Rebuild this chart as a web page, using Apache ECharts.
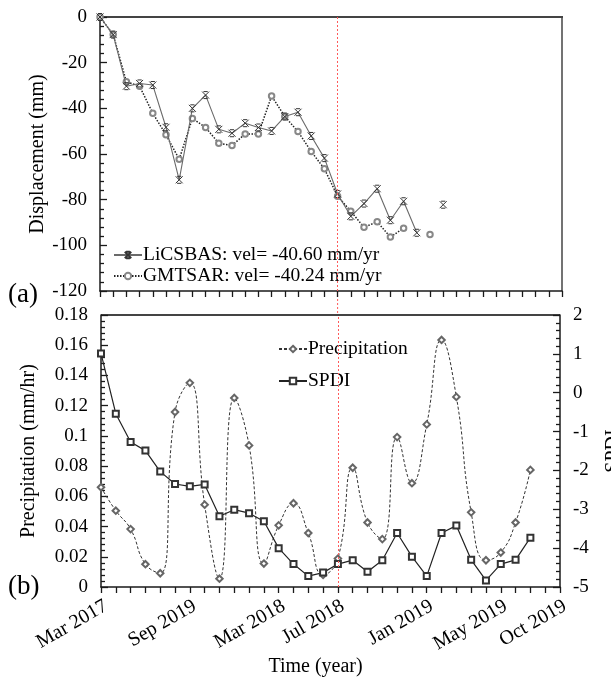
<!DOCTYPE html>
<html>
<head>
<meta charset="utf-8">
<script src="https://cdn.jsdelivr.net/npm/echarts@6/dist/echarts.min.js"></script>
<style>
  html, body { margin: 0; padding: 0; background: #fff; }
  #chart { width: 611px; height: 684px; }
</style>
</head>
<body>
<div id="chart"></div>
<script>
// (a) cumulative displacement (mm) per acquisition slot
const licsbasVel = '-40.60';
const gmtsarVel = '-40.24';
const licsbasDisp = [0, -7.7, -30.3, -29.1, -29.8, -48.3, -71.3, -40.0, -34.2, -49.2, -50.9, -46.5,
  -48.4, -49.9, -43.6, -41.7, -52.1, -61.8, -77.5, -87.3, -81.7, -75.2, -89.0, -80.7, -94.5, null, -82.2];
const gmtsarDisp = [0, -7.7, -28.4, -30.3, -42.2, -51.6, -62.3, -44.4, -48.4, -55.3, -56.3, -51.2,
  -51.2, -34.6, -43.6, -50.2, -58.9, -66.5, -78.5, -85.1, -92.1, -89.7, -96.4, -92.5, null, -95.3];

// (b) precipitation (mm/hr) and SPDI per time slot
const precipitation = [0.066, 0.0505, 0.0383, 0.0151, 0.0091, 0.1158, 0.1351, 0.0545, 0.0055, 0.1251,
  0.0937, 0.0155, 0.0408, 0.0554, 0.0357, 0.008, 0.0188, 0.0789, 0.0427, 0.0317, 0.0992, 0.0687,
  0.1076, 0.1635, 0.1258, 0.0494, 0.0177, 0.0228, 0.0427, 0.0775];
const spdi = [1.01, -0.54, -1.27, -1.49, -2.03, -2.35, -2.41, -2.36, -3.18, -3.01, -3.10, -3.31, -4.0,
  -4.41, -4.72, -4.63, -4.41, -4.31, -4.61, -4.31, -3.61, -4.22, -4.72, -3.61, -3.42, -4.30, -4.83,
  -4.41, -4.30, -3.73];

// time axes
const acquisitionSlots = 36;
const monthlySlots = 32;
const timeTickLabels = ['Mar 2017', 'Sep 2019', 'Mar 2018', 'Jul 2018', 'Jan 2019', 'May 2019', 'Oct 2019'];
const timeTickSlots = [0, 6, 12, 16, 22, 27, 31];
const eventSlotA = 18;
const eventSlotB = 16;

const FONT = 'Liberation Serif';
const INK = '#000';
const AXIS = '#1a1a1a';
const FRAME = '#444';
const EVENT = '#ff5a5a';

const catsA = Array.from({ length: acquisitionSlots }, (_, i) => String(i));
const catsB = Array.from({ length: monthlySlots }, (_, i) => String(i));

const nameA1 = 'LiCSBAS: vel= ' + licsbasVel + ' mm/yr';
const nameA2 = 'GMTSAR: vel= ' + gmtsarVel + ' mm/yr';

const eventLine = (slot) => ({
  silent: true,
  symbol: ['none', 'none'],
  label: { show: false },
  emphasis: { disabled: true },
  lineStyle: { color: EVENT, type: [2, 2], width: 1, opacity: 1 },
  data: [{ xAxis: slot }]
});

const tickStyle = () => ({ color: AXIS, width: 1.3 });

function valueAxis(grid, side, min, max, interval, extra) {
  return Object.assign({
    type: 'value', gridIndex: grid, position: side, min, max, interval,
    axisLine: { show: true, onZero: false, lineStyle: { color: AXIS, width: 1.5 } },
    axisTick: { show: true, inside: true, length: 7, lineStyle: tickStyle() },
    minorTick: { show: true, splitNumber: 5, length: 4, lineStyle: tickStyle() },
    splitLine: { show: false },
    axisLabel: { color: INK, fontFamily: FONT, fontSize: 19, margin: 13 },
    nameTextStyle: { color: INK, fontFamily: FONT, fontSize: 20 },
    nameMoveOverlap: false
  }, extra || {});
}

const chart = echarts.init(document.getElementById('chart'), null, { renderer: 'canvas' });

chart.setOption({
  animation: false,
  backgroundColor: '#fff',
  title: [
    { text: '(a)', left: 3, top: 276, textStyle: { fontFamily: FONT, fontSize: 27, fontWeight: 'normal', color: INK } },
    { text: '(b)', left: 3, top: 568, textStyle: { fontFamily: FONT, fontSize: 27, fontWeight: 'normal', color: INK } }
  ],
  grid: [
    { left: 100, top: 17, width: 462, height: 274, outerBoundsMode: 'none', containLabel: false },
    { left: 101, top: 315, width: 459, height: 272, outerBoundsMode: 'none', containLabel: false }
  ],
  legend: [
    {
      data: [nameA1, nameA2], orient: 'vertical', left: 108, top: 240,
      itemWidth: 28, itemHeight: 8, itemGap: 1,
      textStyle: { fontFamily: FONT, fontSize: 19.5, color: INK, padding: [0, 0, 0, -4] }
    },
    {
      data: ['Precipitation', 'SPDI'], orient: 'vertical', left: 273, top: 334,
      itemWidth: 28, itemHeight: 8, itemGap: 12,
      textStyle: { fontFamily: FONT, fontSize: 19.5, color: INK, padding: [0, 0, 0, -4] }
    }
  ],
  xAxis: [
    {
      type: 'category', gridIndex: 0, position: 'bottom', data: catsA, boundaryGap: false,
      axisLine: { show: true, onZero: false, lineStyle: { color: AXIS, width: 1.5 } },
      axisTick: { show: true, interval: 0, length: 6, lineStyle: tickStyle() },
      axisLabel: { show: false }
    },
    {
      type: 'category', gridIndex: 1, position: 'bottom', data: catsB, boundaryGap: false,
      axisLine: { show: true, onZero: false, lineStyle: { color: AXIS, width: 1.5 } },
      axisTick: { show: true, interval: 0, length: 6, lineStyle: tickStyle() },
      axisLabel: {
        interval: 0, rotate: 30, margin: 9, color: INK, fontFamily: FONT, fontSize: 20,
        verticalAlign: 'top',
        formatter: (v, i) => {
          const k = timeTickSlots.indexOf(i);
          return k >= 0 ? timeTickLabels[k] : '';
        }
      },
      name: 'Time (year)', nameLocation: 'middle', nameGap: 70, nameMoveOverlap: false,
      nameTextStyle: { color: INK, fontFamily: FONT, fontSize: 20, padding: [0, 30, 0, 0] }
    }
  ],
  yAxis: [
    valueAxis(0, 'left', -120, 0, 20, { name: 'Displacement (mm)', nameLocation: 'middle', nameGap: 52 }),
    valueAxis(1, 'left', 0, 0.18, 0.02, { name: 'Precipitation (mm/hr)', nameLocation: 'middle', nameGap: 62 }),
    valueAxis(1, 'right', -5, 2, 1, { name: 'SPDI', nameLocation: 'middle', nameGap: 44, nameRotate: 90 })
  ],
  series: [
    {
      name: nameA1, type: 'line', xAxisIndex: 0, yAxisIndex: 0, data: licsbasDisp,
      showAllSymbol: true, symbol: 'path://M0,0L10,10M10,0L0,10M2,0L8,0M2,10L8,10', symbolSize: 7,
      lineStyle: { color: '#6a6a6a', width: 1.1 },
      itemStyle: { color: 'rgba(0,0,0,0)', borderColor: '#333', borderWidth: 1 },
      markLine: eventLine(eventSlotA), z: 3
    },
    {
      name: nameA2, type: 'line', xAxisIndex: 0, yAxisIndex: 0, data: gmtsarDisp,
      showAllSymbol: true, symbol: 'emptyCircle', symbolSize: 5.5,
      lineStyle: { color: '#222', width: 1.5, type: [1.5, 1.5] },
      itemStyle: { color: '#888', borderWidth: 0.9 }, z: 2
    },
    {
      name: 'Precipitation', type: 'line', xAxisIndex: 1, yAxisIndex: 1, data: precipitation,
      showAllSymbol: true, smooth: 0.5, symbol: 'emptyDiamond', symbolSize: 6.5,
      lineStyle: { color: '#333', width: 1, type: [3, 2] },
      itemStyle: { color: '#666', borderWidth: 0.9 },
      markLine: eventLine(eventSlotB)
    },
    {
      name: 'SPDI', type: 'line', xAxisIndex: 1, yAxisIndex: 2, data: spdi,
      showAllSymbol: true, symbol: 'emptyRect', symbolSize: 6,
      lineStyle: { color: '#222', width: 1.2 },
      itemStyle: { color: '#333', borderWidth: 1 }
    }
  ]
});

// panel frames and the event marker across the gap, placed from the axes' own scales
const px = (axis, v) => chart.convertToPixel(axis, v);
const xA0 = px({ xAxisIndex: 0 }, 0);
const xA1 = px({ xAxisIndex: 0 }, acquisitionSlots - 1);
const xB0 = px({ xAxisIndex: 1 }, 0);
const xB1 = px({ xAxisIndex: 1 }, monthlySlots - 1);
const yTopA = px({ yAxisIndex: 0 }, 0);
const yBottomA = px({ yAxisIndex: 0 }, -120);
const yTopB = px({ yAxisIndex: 1 }, 0.18);
const xEvent = px({ xAxisIndex: 0 }, eventSlotA);

chart.setOption({
  graphic: [
    { type: 'line', silent: true, shape: { x1: xA0, y1: yTopA, x2: xA1 + 1, y2: yTopA },
      style: { stroke: FRAME, lineWidth: 2 } },
    { type: 'line', silent: true, shape: { x1: xA1, y1: yTopA, x2: xA1, y2: yBottomA },
      style: { stroke: FRAME, lineWidth: 1.5 } },
    { type: 'line', silent: true, shape: { x1: xB0, y1: yTopB, x2: xB1, y2: yTopB },
      style: { stroke: FRAME, lineWidth: 2 } },
    { type: 'line', silent: true, shape: { x1: xEvent, y1: yBottomA, x2: xEvent, y2: yTopB },
      style: { stroke: EVENT, lineWidth: 1, lineDash: [2, 2] } }
  ]
});
</script>
</body>
</html>
